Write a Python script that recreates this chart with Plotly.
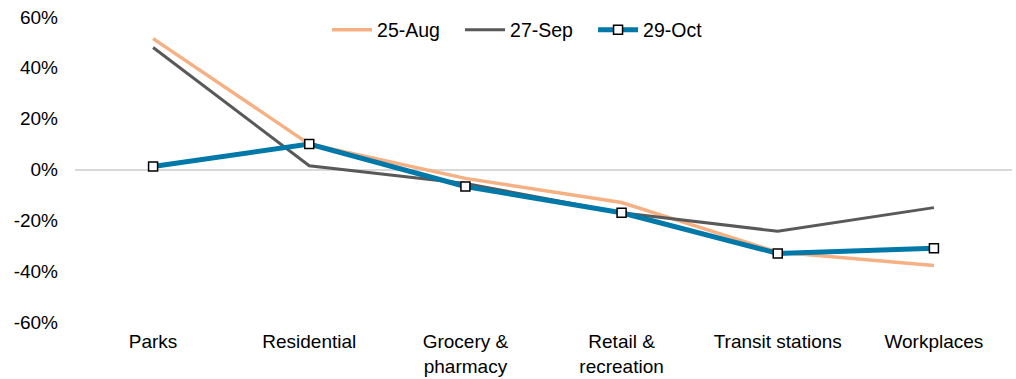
import plotly.graph_objects as go

categories = ["Parks", "Residential", "Grocery &<br>pharmacy", "Retail &<br>recreation", "Transit stations", "Workplaces"]
aug25 = [51.5, 10.0, -3.5, -13.0, -32.5, -37.8]
sep27 = [48.0, 1.5, -5.5, -17.0, -24.3, -15.0]
oct29 = [1.2, 10.0, -6.7, -17.0, -33.0, -31.0]
ytick_vals = [-60, -40, -20, 0, 20, 40, 60]
ytick_text = ["-60%", "-40%", "-20%", "0%", "20%", "40%", "60%"]

fig = go.Figure()
fig.add_trace(go.Scatter(x=categories, y=aug25, name="25-Aug", mode="lines",
                         line=dict(color="#F5B183", width=3.5)))
fig.add_trace(go.Scatter(x=categories, y=sep27, name="27-Sep", mode="lines",
                         line=dict(color="#595959", width=3)))
fig.add_trace(go.Scatter(x=categories, y=oct29, name="29-Oct", mode="lines+markers",
                         line=dict(color="#0078A8", width=5),
                         marker=dict(symbol="square", size=9, color="white",
                                     line=dict(color="black", width=1.5))))

fig.update_layout(
    width=1016, height=379,
    margin=dict(l=75, r=4, t=17, b=57),
    paper_bgcolor="white", plot_bgcolor="white",
    font=dict(family="Liberation Sans, Arial, sans-serif", size=19, color="black"),
    legend=dict(orientation="h", x=0.269, xanchor="left", y=1.021, yanchor="top",
                font=dict(size=19.5), bgcolor="rgba(0,0,0,0)", itemwidth=40,
                entrywidth=78, entrywidthmode="pixels", tracegroupgap=0),
    showlegend=True,
)
fig.update_xaxes(range=[-0.5, 5.5], showgrid=False, showline=False, ticks="",
                 tickfont=dict(size=19), ticklabelstandoff=6, automargin=False)
fig.update_yaxes(range=[-60, 60], tickvals=ytick_vals, ticktext=ytick_text,
                 showgrid=False, zeroline=True, zerolinecolor="#D9D9D9", zerolinewidth=1.5,
                 ticks="", tickfont=dict(size=19), ticklabelstandoff=16, automargin=False)

fig.write_html("out.html")
